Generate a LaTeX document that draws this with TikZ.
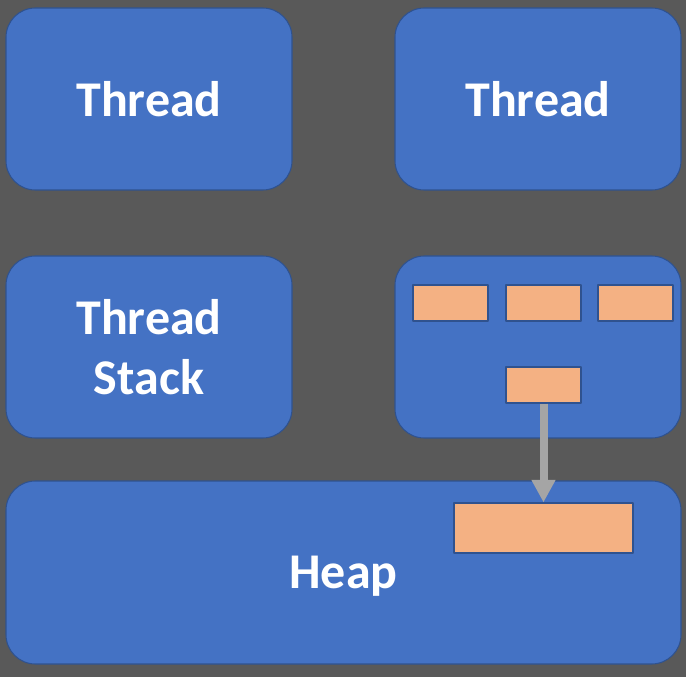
\documentclass[tikz,border=0pt]{standalone}
\usepackage{fontspec}
\setmainfont{Carlito}
\usetikzlibrary{arrows.meta}
\definecolor{bggray}{HTML}{595959}
\definecolor{panelblue}{HTML}{4472C4}
\definecolor{paneledge}{HTML}{2F528F}
\definecolor{cellorange}{HTML}{F4B183}
\definecolor{flowgray}{HTML}{A5A5A5}

\begin{document}
\begin{tikzpicture}[x=0.75pt, y=-0.75pt, line join=round,
    panel/.style={draw=paneledge, fill=panelblue, line width=0.8pt, rounded corners=22pt,
      minimum width=214.5pt, minimum height=136.5pt, inner sep=0pt,
      text=white, align=center, font=\fontsize{37.5}{45}\selectfont\bfseries},
    cell/.style={draw=paneledge, fill=cellorange, line width=0.8pt, inner sep=0pt,
      minimum width=56.25pt, minimum height=27pt},
    flow/.style={draw=flowgray, line width=6pt, -{Triangle[width=17pt, length=17pt]}}]

    % background
    \fill[bggray] (0,0) rectangle (686,677);

    % threads and their stacks
    \node[panel] (thread1) at (149,99) {Thread};
    \node[panel] (thread2) at (538,99) {Thread};
    \node[panel] (stack1) at (149,347) {Thread\\Stack};
    \node[panel] (stack2) at (538,347) {};

    % heap
    \node[panel, minimum width=506.25pt, minimum height=137.25pt] (heap) at (343.5,572.5) {};
    \node[text=white, font=\fontsize{37.5}{45}\selectfont\bfseries] (heaplabel) at (343.5,576) {Heap};

    % frames inside the second stack
    \node[cell] (frame1) at (450.5,303) {};
    \node[cell] (frame2) at (543.5,303) {};
    \node[cell] (frame3) at (635.5,303) {};
    \node[cell] (ref) at (543.5,385) {};

    % object on the heap
    \node[cell, minimum width=134.25pt, minimum height=37.5pt] (obj) at (543.5,528) {};

    \draw[flow] (ref.south) -- (obj.north);
\end{tikzpicture}
\end{document}
